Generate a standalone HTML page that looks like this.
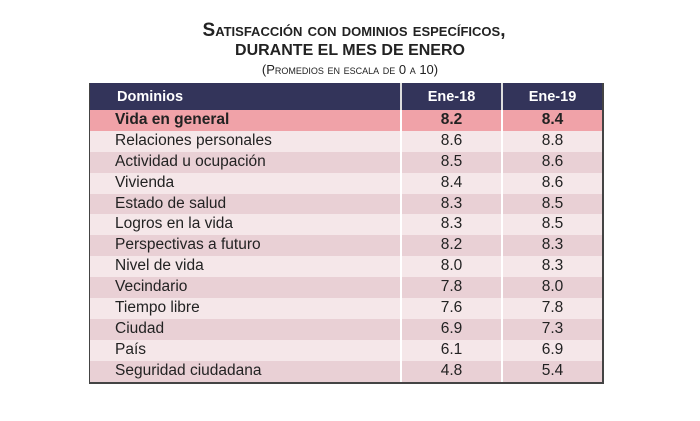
<!DOCTYPE html>
<html><head><meta charset="utf-8"><style>
body{margin:0;width:700px;height:421px;background:#fff;font-family:"Liberation Sans",Arial,sans-serif;position:relative;overflow:hidden}
.t{position:absolute;left:0;width:700px;text-align:center;color:#222;font-weight:bold;font-variant:small-caps}
#tbl{position:absolute;left:89px;top:83px;width:512px;border:1px solid #444;border-top:none;border-right:2px solid #444;border-bottom:2px solid #444;}
.r{display:flex;height:20.9px;line-height:20.9px;font-size:15.5px;color:#222}
.r div{box-sizing:border-box}
.c1{width:310px;padding-left:25px}
.c2{width:101px;text-align:center;border-left:2px solid #fff}
.c3{width:101px;text-align:center;border-left:2px solid #fff}
.h{background:#33345a;color:#fff;font-weight:bold;height:27px;line-height:29px;font-size:14.5px}
.h .c1{padding-left:27px}
.h .c2,.h .c3{border-left:2px solid #ddd}
.a{background:#f5e7e9}.b{background:#e9d0d5}
.v{background:#f0a2a8;font-weight:bold}
</style></head><body>
<div class="t" style="top:20px;font-size:19px;left:4px">Satisfacción con dominios específicos,</div>
<div class="t" style="top:42px;font-size:16px;font-variant:normal">DURANTE EL MES DE ENERO</div>
<div class="t" style="top:62px;font-size:13px;font-weight:normal">(Promedios en escala de 0 a 10)</div>
<div id="tbl">
<div class="r h"><div class="c1">Dominios</div><div class="c2">Ene-18</div><div class="c3">Ene-19</div></div>
<div class="r v"><div class="c1">Vida en general</div><div class="c2">8.2</div><div class="c3">8.4</div></div>
<div class="r a"><div class="c1">Relaciones personales</div><div class="c2">8.6</div><div class="c3">8.8</div></div>
<div class="r b"><div class="c1">Actividad u ocupación</div><div class="c2">8.5</div><div class="c3">8.6</div></div>
<div class="r a"><div class="c1">Vivienda</div><div class="c2">8.4</div><div class="c3">8.6</div></div>
<div class="r b"><div class="c1">Estado de salud</div><div class="c2">8.3</div><div class="c3">8.5</div></div>
<div class="r a"><div class="c1">Logros en la vida</div><div class="c2">8.3</div><div class="c3">8.5</div></div>
<div class="r b"><div class="c1">Perspectivas a futuro</div><div class="c2">8.2</div><div class="c3">8.3</div></div>
<div class="r a"><div class="c1">Nivel de vida</div><div class="c2">8.0</div><div class="c3">8.3</div></div>
<div class="r b"><div class="c1">Vecindario</div><div class="c2">7.8</div><div class="c3">8.0</div></div>
<div class="r a"><div class="c1">Tiempo libre</div><div class="c2">7.6</div><div class="c3">7.8</div></div>
<div class="r b"><div class="c1">Ciudad</div><div class="c2">6.9</div><div class="c3">7.3</div></div>
<div class="r a"><div class="c1">País</div><div class="c2">6.1</div><div class="c3">6.9</div></div>
<div class="r b"><div class="c1">Seguridad ciudadana</div><div class="c2">4.8</div><div class="c3">5.4</div></div>
</div>
</body></html>
